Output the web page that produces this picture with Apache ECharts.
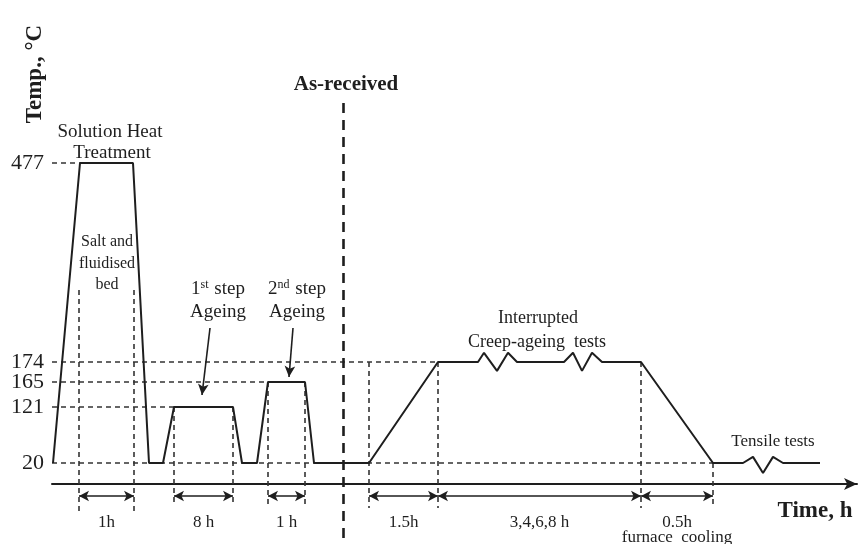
<!DOCTYPE html>
<html>
<head>
<meta charset="utf-8">
<script src="https://cdn.jsdelivr.net/npm/echarts@6/dist/echarts.min.js"></script>
<style>
  html, body { margin: 0; padding: 0; background: #fff; }
  #chart { width: 859px; height: 544px; }
</style>
</head>
<body>
<div id="chart"></div>
<script>
// heat treatment route, schematic time axis (not to scale), temperature in °C
const stepTime = [1, 28, 81, 97, 111, 122, 181, 190, 205, 216, 253, 262, 317, 386,
                  426, 432, 445, 456, 465, 512, 521, 530, 540, 550, 589, 661,
                  691, 701, 711, 721, 731, 768];
const stepTemp = [20, 477, 477, 20, 20, 121, 121, 20, 20, 165, 165, 20, 20, 174,
                  174, 188, 170, 188, 174, 174, 188, 170, 188, 174, 174, 20,
                  20, 31, 2, 31, 20, 20];

const tempTicks = [20, 121, 165, 174, 477];
const tickGuideEnd = [661, 122, 216, 386, 41];   // time where each dashed level line stops

const durationLabels = ['1h', '8 h', '1 h', '1.5h', '3,4,6,8 h', '0.5h'];
const durationFrom = [27, 122, 216, 317, 386, 589];
const durationTo = [82, 181, 253, 386, 589, 661];

// the temperature axis is not to scale: drawn height of each tick above the time axis
const tickHeight = [21, 77, 102, 122, 321];

function lvl(t) {
  let i = 0;
  while (i < tempTicks.length - 2 && t > tempTicks[i + 1]) i++;
  const t0 = tempTicks[i], t1 = tempTicks[i + 1];
  return tickHeight[i] + (t - t0) * (tickHeight[i + 1] - tickHeight[i]) / (t1 - t0);
}

const ink = '#1e1e1e';
const serif = '"Liberation Serif", "Times New Roman", serif';
const dash = { color: '#333', width: 1.6, type: [5, 4] };

// dashed helper lines
const guides = [];
tempTicks.forEach((t, i) => {
  guides.push([{ coord: [0, lvl(t)] }, { coord: [tickGuideEnd[i], lvl(t)] }]);
});
const vGuides = [
  [27, 194, -28], [82, 194, -28],
  [122, lvl(121), -22], [181, lvl(121), -22],
  [216, lvl(165), -22], [253, lvl(165), -22],
  [317, lvl(174), -24], [386, lvl(174), -24], [589, lvl(174), -24],
  [661, lvl(20), -24]
];
vGuides.forEach(g => guides.push([{ coord: [g[0], g[1]] }, { coord: [g[0], g[2]] }]));

const arrows = durationLabels.map((s, i) => [
  { coord: [durationFrom[i], -12], label: { formatter: s } },
  { coord: [durationTo[i], -12] }
]);

function txt(text, x, y, size, bold) {
  return {
    type: 'text', x: x, y: y, silent: true,
    style: {
      text: text, fill: ink, align: 'center', verticalAlign: 'middle',
      font: (bold ? 'bold ' : '') + size + 'px ' + serif
    }
  };
}

function supTxt(base, sup, rest, x, y) {
  return {
    type: 'text', x: x, y: y, silent: true,
    style: {
      text: base + '{sup|' + sup + '}' + rest, fill: ink, align: 'center', verticalAlign: 'middle',
      font: '19px ' + serif,
      rich: { sup: { fontSize: 12, fontFamily: serif, padding: [0, 1, 8, 0], fill: ink } }
    }
  };
}

const chart = echarts.init(document.getElementById('chart'));
chart.setOption({
  animation: false,
  backgroundColor: '#fff',
  grid: { left: 52, right: 2, top: 14, bottom: 0 },
  xAxis: {
    type: 'value', min: 0, max: 805,
    axisLine: {
      onZero: true, symbol: ['none', 'arrow'], symbolSize: [9, 13],
      lineStyle: { color: ink, width: 2 }
    },
    axisTick: { show: false }, axisLabel: { show: false }, splitLine: { show: false }
  },
  yAxis: {
    type: 'value', min: -60, max: 470,
    axisLine: { show: false }, axisTick: { show: false }, splitLine: { show: false },
    axisLabel: {
      customValues: tickHeight,
      formatter: v => {
        let best = 0;
        tickHeight.forEach((h, i) => { if (Math.abs(h - v) < Math.abs(tickHeight[best] - v)) best = i; });
        return String(tempTicks[best]);
      },
      margin: 8, fontFamily: serif, fontSize: 22, color: ink
    }
  },
  series: [
    {
      type: 'line', name: 'profile', z: 5,
      data: stepTime.map((t, i) => [t, lvl(stepTemp[i])]),
      symbol: 'none',
      lineStyle: { color: ink, width: 2 },
      markLine: {
        silent: true, symbol: ['none', 'none'], label: { show: false },
        lineStyle: dash,
        data: guides
      }
    },
    {
      type: 'line', name: 'marks', data: [], z: 6,
      markLine: {
        silent: true, symbol: ['none', 'none'], label: { show: false },
        lineStyle: { color: ink, width: 2, type: 'solid' },
        data: [
          // temperature axis
          [{ coord: [0, 0] }, { coord: [0, 472], symbol: 'arrow', symbolSize: [9, 13] }],
          // as-received divider
          [{ coord: [291, 381], lineStyle: { type: [10, 7], width: 2.6 } }, { coord: [291, -56] }],
          // pointers to ageing steps
          [{ coord: [158, 156], lineStyle: { width: 1.6 } }, { coord: [150, 89], symbol: 'arrow', symbolSize: [8, 11] }],
          [{ coord: [241, 156], lineStyle: { width: 1.6 } }, { coord: [237, 107], symbol: 'arrow', symbolSize: [8, 11] }]
        ]
      }
    },
    {
      type: 'line', name: 'durations', data: [], z: 6,
      markLine: {
        silent: true, symbol: ['arrow', 'arrow'], symbolSize: [8, 10],
        lineStyle: { color: ink, width: 1.6, type: 'solid' },
        label: {
          show: true, position: 'insideMiddleBottom', distance: 18,
          fontFamily: serif, fontSize: 17, color: ink
        },
        data: arrows
      }
    }
  ],
  graphic: [
    {
      type: 'text', x: 35, y: 74, rotation: Math.PI / 2, silent: true,
      style: {
        text: 'Temp., °C', fill: ink, align: 'center', verticalAlign: 'middle',
        font: 'bold 23px ' + serif
      }
    },
    txt('Time, h', 815, 511, 23, true),
    txt('As-received', 346, 85, 21, true),
    txt('Solution Heat', 110, 132, 19),
    txt('Treatment', 112, 153, 19),
    txt('Salt and', 107, 242, 16),
    txt('fluidised', 107, 264, 16),
    txt('bed', 107, 285, 16),
    supTxt('1', 'st', ' step', 218, 289),
    txt('Ageing', 218, 312, 19),
    supTxt('2', 'nd', ' step', 297, 289),
    txt('Ageing', 297, 312, 19),
    txt('Interrupted', 538, 318, 18),
    txt('Creep-ageing  tests', 537, 342, 18),
    txt('Tensile tests', 773, 442, 17),
    txt('furnace  cooling', 677, 538, 17)
  ]
});
</script>
</body>
</html>
